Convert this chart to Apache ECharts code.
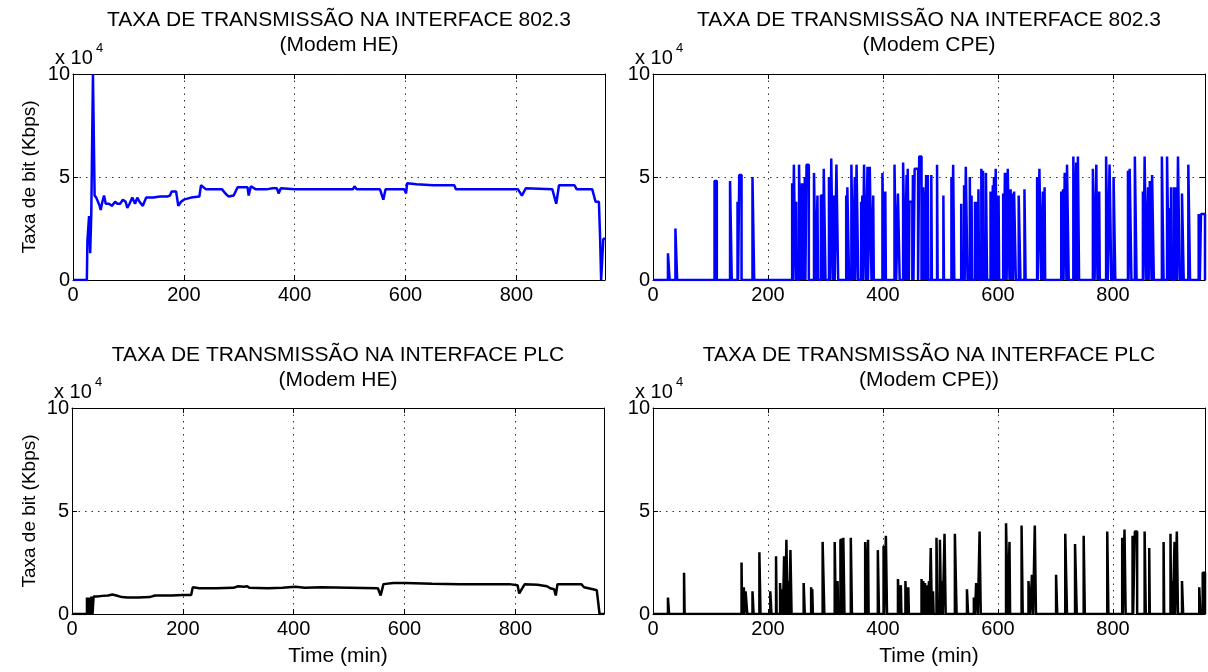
<!DOCTYPE html>
<html><head><meta charset="utf-8">
<script src="https://cdn.jsdelivr.net/npm/echarts@6/dist/echarts.min.js"></script>
<style>html,body{margin:0;padding:0;background:#fff}#c{width:1208px;height:672px}</style>
</head><body><div id="c"></div>
<script>
// Values in units of 10^4 Kbps, time in minutes
const xTicks = [0, 200, 400, 600, 800];
const yTicks = [0, 5, 10];
const panelTitles = [
  ['TAXA DE TRANSMISSÃO NA INTERFACE 802.3', '(Modem HE)'],
  ['TAXA DE TRANSMISSÃO NA INTERFACE 802.3', '(Modem CPE)'],
  ['TAXA DE TRANSMISSÃO NA INTERFACE PLC', '(Modem HE)'],
  ['TAXA DE TRANSMISSÃO NA INTERFACE PLC', '(Modem CPE))']
];
const yLabel = 'Taxa de bit (Kbps)';
const xLabel = 'Time (min)';

// 802.3 interface, HE modem: [time, value]
const he8023 = [[0,0],[25,0],[26,1.9],[28,1.9],[29,3.1],[31,1.3],[33,3.2],[35,3.2],[36,10],[38,10],[39,4.1],[42,4.0],[45,4.0],[48,3.6],[50,3.4],[53,3.8],[56,4.1],[59,3.7],[65,3.7],[70,3.6],[76,3.8],[80,3.7],[85,3.7],[90,3.9],[95,3.8],[98,3.5],[102,3.7],[107,4.0],[112,3.7],[116,4.0],[120,3.8],[126,3.6],[132,4.0],[145,4.0],[157,4.05],[170,4.05],[175,4.1],[178,4.3],[186,4.3],[190,3.6],[195,3.8],[200,3.9],[213,4.0],[228,4.05],[231,4.6],[240,4.4],[260,4.4],[269,4.4],[275,4.2],[281,4.05],[290,4.1],[297,4.5],[315,4.5],[317,4.1],[321,4.55],[330,4.4],[349,4.4],[360,4.45],[368,4.45],[371,4.2],[375,4.45],[400,4.4],[450,4.4],[505,4.4],[508,4.55],[512,4.4],[554,4.4],[560,3.9],[564,4.4],[590,4.4],[598,4.4],[601,4.2],[603,4.7],[620,4.65],[650,4.6],[688,4.6],[691,4.4],[740,4.4],[803,4.4],[810,4.1],[817,4.45],[865,4.4],[872,3.7],[877,4.6],[905,4.6],[909,4.4],[937,4.4],[943,3.8],[949,3.8],[951,2.2],[953,0],[956,0],[957,2.0],[960,2.0]];

// 802.3 interface, CPE modem: bursts [start, end, level]
const cpe8023 = [[26,29,1.3],[39,42,2.5],[107,111,4.8],[134,137,4.8],[147,148,3.8],[150,154,5.1],[173,176,5.0],
[242,243,4.7],[245,248,5.6],[249,250,3.8],[254,257,5.6],[259,260,4.7],[262,263,4.7],[264,265,5.0],[267,271,5.6],
[280,283,5.2],[286,287,4.1],[292,296,4.1],[297,300,5.4],[306,308,5.0],[310,313,5.9],[315,316,4.1],[319,322,5.6],
[336,337,4.1],[338,341,4.5],[345,348,5.6],[351,352,5.0],[354,357,5.6],[362,363,3.8],[364,365,4.1],[367,370,5.6],[373,374,5.5],[377,380,5.5],[383,384,4.1],
[399,402,5.2],[404,405,4.3],[420,423,5.6],[426,429,4.2],[435,438,5.7],[441,442,5.1],[443,445,5.4],[446,451,3.8],[452,453,5.1],[455,461,5.4],[463,467,6.0],[470,471,4.5],[472,473,4.3],[475,476,5.1],[478,479,5.1],[484,485,5.1],[494,495,5.6],[505,506,4.1],
[519,520,5.0],[522,524,5.6],[536,537,3.7],[541,542,4.6],[544,547,5.5],[551,552,5.0],[554,555,4.1],[560,561,3.8],[562,565,3.8],[566,567,4.4],[571,572,5.4],[574,575,5.3],[579,581,5.2],
[587,588,4.3],[591,592,4.6],[593,594,5.0],[596,598,5.4],[601,602,4.1],[609,610,4.2],[612,613,5.2],[614,615,5.2],[617,620,5.4],[622,623,4.4],[625,626,4.2],[628,631,4.3],[636,639,4.1],[646,648,4.4],
[668,669,5.0],[672,675,5.4],[678,679,4.3],[681,682,4.5],[710,711,4.3],[713,714,4.4],[716,719,5.2],[720,723,5.6],[731,734,6.0],[736,737,5.7],[739,741,6.0],
[765,768,5.4],[771,773,5.6],[776,777,4.3],[788,791,6.0],[794,797,5.6],[801,804,5.0],
[826,827,5.3],[829,832,5.4],[838,841,6.0],[852,853,4.3],[855,858,6.0],[861,862,4.5],[864,867,4.8],[868,871,5.1],
[885,888,6.0],[894,897,6.0],[899,900,3.5],[901,902,4.5],[906,907,4.5],[910,911,4.5],[913,916,6.0],[920,923,4.2],[931,934,5.6],[949,951,3.2],[953,960,3.2]];

// PLC interface, HE modem: [time, value]
const plcHe = [[0,0],[27,0],[27,0.8],[29,0],[31,0.8],[33,0],[35,0.85],[37,0],[39,0.85],[45,0.85],[55,0.88],[65,0.9],[73,0.95],[80,0.9],[90,0.82],[100,0.8],[120,0.8],[140,0.82],[150,0.9],[180,0.9],[200,0.92],[215,0.92],[218,1.3],[230,1.25],[260,1.25],[291,1.27],[300,1.35],[310,1.32],[316,1.35],[320,1.27],[353,1.25],[380,1.27],[403,1.32],[420,1.28],[450,1.3],[500,1.28],[552,1.25],[557,0.9],[562,1.45],[580,1.5],[602,1.5],[650,1.47],[700,1.45],[750,1.45],[789,1.45],[804,1.4],[807,1.0],[817,1.45],[840,1.42],[857,1.35],[863,1.25],[870,1.2],[873,0.9],[876,1.45],[900,1.45],[919,1.45],[924,1.3],[940,1.2],[947,1.15],[950,1.1],[952,0],[960,0]];

// PLC interface, CPE modem: bursts [start, end, level]
const plcCpe = [[26,28,0.8],[54,55,2.0],[154,155,2.5],[158,159,1.3],[161,164,1.1],[173,175,1.1],[185,187,3.0],[204,206,1.1],[214,215,2.8],[221,223,1.5],[225,226,1.2],[228,230,2.8],[232,234,3.6],[235,237,1.6],[239,241,3.1],[262,264,1.5],[275,276,1.3],[277,278,1.2],[295,298,3.5],[316,318,3.5],[321,322,1.6],[326,330,3.6],[331,333,3.7],[344,346,3.7],[369,371,3.5],[374,375,3.6],[391,393,3.1],[401,402,3.3],[405,407,3.8],[426,428,1.7],[431,432,1.4],[439,441,1.6],[444,445,1.3],[467,468,1.7],[470,471,1.6],[473,474,1.5],[476,477,1.4],[480,481,1.6],[483,485,3.2],[487,488,1.1],[493,495,3.7],[499,501,3.6],[503,504,1.6],[507,509,3.9],[525,528,3.9],[546,548,1.2],[558,560,0.8],[562,565,1.5],[568,570,4.0],[614,617,4.4],[620,621,3.5],[641,643,4.3],[653,656,1.6],[659,661,1.9],[664,666,4.3],[701,703,1.9],[717,720,3.9],[734,737,3.4],[749,751,3.8],[790,792,4.0],[816,817,3.7],[820,822,4.1],[834,835,3.8],[838,842,4.0],[855,857,4.0],[863,864,3.2],[888,889,3.5],[900,901,3.9],[903,904,1.6],[907,908,3.5],[911,913,4.0],[920,922,1.6],[950,952,1.3],[956,960,2.0]];

function burstsToPoints(bursts) {
  const pts = [[0, 0]];
  bursts.forEach(b => { pts.push([b[0], 0], [b[0], b[2]], [b[1], b[2]], [b[1], 0]); });
  pts.push([960, 0]);
  return pts;
}

const FONT = "'Liberation Sans', Arial, Helvetica, sans-serif";
const grids = [
  {left: 73, top: 74, width: 532, height: 206},
  {left: 653, top: 74, width: 552, height: 206},
  {left: 72, top: 408, width: 532, height: 206},
  {left: 653, top: 408, width: 552, height: 206}
];
const seriesData = [he8023, burstsToPoints(cpe8023), plcHe, burstsToPoints(plcCpe)];
const colors = ['#0000ff', '#0000ff', '#000000', '#000000'];

const gridLine = {show: true, lineStyle: {color: '#333', width: 1, type: [1.5, 5]}};
const xAxes = [], yAxes = [], series = [], graphics = [];
grids.forEach((g, i) => {
  xAxes.push({type: 'value', gridIndex: i, min: 0, max: 960, interval: 200, position: 'bottom',
    axisLine: {onZero: false, lineStyle: {color: '#000', width: 1}},
    axisTick: {inside: true, length: 5, lineStyle: {color: '#000'}},
    axisLabel: {color: '#000', fontSize: 20, fontFamily: FONT, margin: 5, showMaxLabel: false,
      formatter: v => xTicks.includes(v) ? String(v) : ''},
    splitLine: gridLine});
  xAxes.push({type: 'value', gridIndex: i, min: 0, max: 960, interval: 200, position: 'top',
    axisLine: {onZero: false, lineStyle: {color: '#000', width: 1}},
    axisTick: {inside: true, length: 5, lineStyle: {color: '#000'}},
    axisLabel: {show: false}, splitLine: {show: false}});
  yAxes.push({type: 'value', gridIndex: i, min: 0, max: 10, interval: 5, position: 'left',
    axisLine: {show: true, onZero: false, lineStyle: {color: '#000', width: 1}},
    axisTick: {show: true, inside: true, length: 5, lineStyle: {color: '#000'}},
    axisLabel: {color: '#000', fontSize: 20, fontFamily: FONT, margin: 3,
      formatter: v => yTicks.includes(v) ? String(v) : ''},
    splitLine: gridLine});
  yAxes.push({type: 'value', gridIndex: i, min: 0, max: 10, interval: 5, position: 'right',
    axisLine: {show: true, onZero: false, lineStyle: {color: '#000', width: 1}},
    axisTick: {show: true, inside: true, length: 5, lineStyle: {color: '#000'}},
    axisLabel: {show: false}, splitLine: {show: false}});
  series.push({type: 'line', xAxisIndex: 2 * i, yAxisIndex: 2 * i, data: seriesData[i],
    showSymbol: false, symbol: 'none', clip: true, animation: false,
    lineStyle: {color: colors[i], width: 2.5}, z: 1});
  const cx = g.left + g.width / 2;
  const tTop = i < 2 ? 20 : 355;
  graphics.push({type: 'text', x: cx, y: tTop, style: {text: panelTitles[i][0], x: 0, y: 0, align: 'center', verticalAlign: 'middle', font: '21px ' + FONT, fill: '#000'}});
  graphics.push({type: 'text', x: cx, y: tTop + 25, style: {text: panelTitles[i][1], x: 0, y: 0, align: 'center', verticalAlign: 'middle', font: '21px ' + FONT, fill: '#000'}});
  const ex = g.left - 18;
  graphics.push({type: 'text', x: ex, y: g.top - 16, style: {text: 'x 10', align: 'left', verticalAlign: 'middle', font: '20px ' + FONT, fill: '#000'}});
  graphics.push({type: 'text', x: ex + 41, y: g.top - 26, style: {text: '4', align: 'left', verticalAlign: 'middle', font: '13px ' + FONT, fill: '#000'}});
  if (i % 2 === 0) {
    graphics.push({type: 'text', x: 30, y: g.top + g.height / 2, rotation: Math.PI / 2,
      style: {text: yLabel, align: 'center', verticalAlign: 'middle', font: '19px ' + FONT, fill: '#000'}});
  }
  if (i >= 2) {
    graphics.push({type: 'text', x: cx, y: 656, style: {text: xLabel, align: 'center', verticalAlign: 'middle', font: '21px ' + FONT, fill: '#000'}});
  }
});

const chart = echarts.init(document.getElementById('c'), null, {renderer: 'canvas'});
chart.setOption({
  animation: false,
  backgroundColor: '#fff',
  grid: grids.map(g => Object.assign({containLabel: false}, g)),
  xAxis: xAxes, yAxis: yAxes, series: series, graphic: graphics
});
</script></body></html>
